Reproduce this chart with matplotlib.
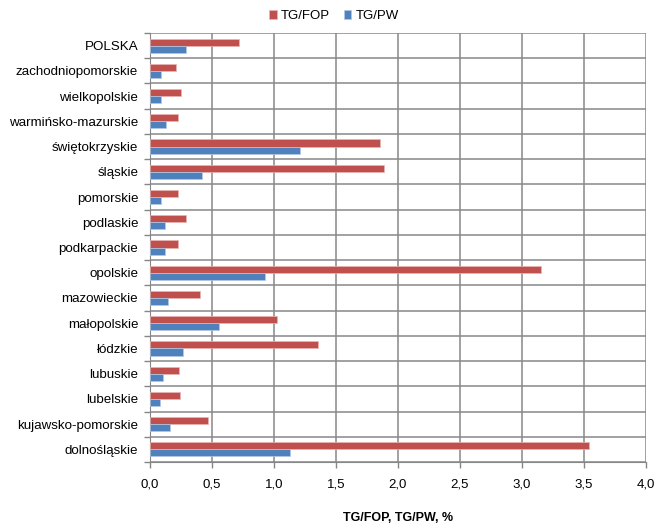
import matplotlib
matplotlib.use("Agg")
import matplotlib.pyplot as plt
import numpy as np

regions = ["POLSKA", "zachodniopomorskie", "wielkopolskie", "warmińsko-mazurskie",
           "świętokrzyskie", "śląskie", "pomorskie", "podlaskie", "podkarpackie",
           "opolskie", "mazowieckie", "małopolskie", "łódzkie", "lubuskie",
           "lubelskie", "kujawsko-pomorskie", "dolnośląskie"]
tg_fop = [0.72, 0.21, 0.25, 0.23, 1.855, 1.89, 0.225, 0.29, 0.23,
          3.16, 0.405, 1.025, 1.355, 0.235, 0.245, 0.465, 3.54]
tg_pw = [0.29, 0.09, 0.087, 0.128, 1.21, 0.42, 0.087, 0.12, 0.125,
         0.93, 0.147, 0.553, 0.265, 0.104, 0.077, 0.163, 1.128]
xticks = [0.0, 0.5, 1.0, 1.5, 2.0, 2.5, 3.0, 3.5, 4.0]
xticklabels = ["0,0", "0,5", "1,0", "1,5", "2,0", "2,5", "3,0", "3,5", "4,0"]

plt.rcParams['font.family'] = ['Liberation Sans', 'DejaVu Sans']

fig = plt.figure(figsize=(6.56, 5.25), dpi=100)
ax = fig.add_axes([150/656, 1 - 462/525, (645.5-150)/656, (462-33)/525])

red = "#C0504D"
blue = "#4F81BD"
n = len(regions)
y = np.arange(n)
h = 0.28
ax.barh(y - h/2, tg_fop, height=h, color=red, edgecolor="#E8B4B3", linewidth=0.5, label="TG/FOP", zorder=3)
ax.barh(y + h/2, tg_pw, height=h, color=blue, edgecolor="#B4C8E3", linewidth=0.5, label="TG/PW", zorder=3)

ax.set_ylim(n - 0.5, -0.5)
ax.set_xlim(0, 4.0)
ax.set_xticks(xticks)
ax.set_xticklabels(xticklabels, fontsize=9.5)
ax.set_yticks(y)
ax.set_yticklabels(regions, fontsize=9.6)
ax.set_yticks(np.arange(-0.5, n, 1), minor=True)
ax.tick_params(axis='y', which='major', length=0, pad=8.5)
ax.tick_params(axis='y', which='minor', length=4, color="#868686", width=1)
ax.tick_params(axis='x', which='major', length=4, color="#868686", width=1, pad=8)
ax.grid(axis='x', which='major', color="#888888", linewidth=1.1, zorder=0)
ax.grid(axis='y', which='minor', color="#888888", linewidth=1.1, zorder=0)
for s in ['top', 'right']:
    ax.spines[s].set_visible(False)
ax.spines['left'].set_color("#868686")
ax.spines['bottom'].set_color("#868686")
ax.set_axisbelow(True)

handles, labels = ax.get_legend_handles_labels()
fig.legend(handles, labels, loc='center', bbox_to_anchor=(334/656, 1 - 16/525), ncol=2,
           frameon=False, fontsize=9.5, handlelength=0.6, handleheight=0.6,
           handletextpad=0.3, columnspacing=1.0)

fig.text(398/656, 1 - 512/525, "TG/FOP, TG/PW, %", ha='center', va='top',
         fontsize=9, fontweight='bold')

fig.savefig("out.png", dpi=100)
